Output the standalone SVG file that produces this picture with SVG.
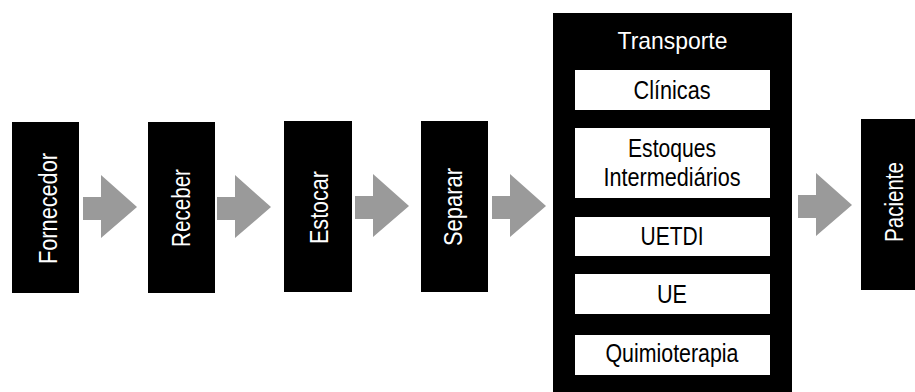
<svg xmlns="http://www.w3.org/2000/svg" width="915" height="392" viewBox="0 0 915 392">
<style>
.blk{fill:#000}
.wht{fill:#fff}
.vt{font-family:"Liberation Sans",Arial,sans-serif;font-size:26px;fill:#fff;text-anchor:middle}
.tt{font-family:"Liberation Sans",Arial,sans-serif;font-size:24px;fill:#fff;text-anchor:middle}
.ht{font-family:"Liberation Sans",Arial,sans-serif;font-size:26px;fill:#000;text-anchor:middle}
.arr{fill:#9a9a9a}
</style>
<defs>
<path id="arrow" d="M0,-10 L18,-10 L18,-32 L54,0 L18,31 L18,13 L0,13 Z"/>
</defs>
<rect width="915" height="392" fill="#fff"/>
<g id="connectors">
<use href="#arrow" class="arr" x="83" y="207"/>
<use href="#arrow" class="arr" x="217" y="207"/>
<use href="#arrow" class="arr" x="355" y="206"/>
<use href="#arrow" class="arr" x="492" y="206"/>
<use href="#arrow" class="arr" x="798" y="205"/>
</g>
<g id="fornecedor">
<rect class="blk" x="12" y="122" width="67" height="171"/>
<text class="vt" transform="translate(56.5,208.5) rotate(-90)" textLength="111" lengthAdjust="spacingAndGlyphs">Fornecedor</text>
</g>
<g id="receber">
<rect class="blk" x="148" y="122" width="67" height="171"/>
<text class="vt" transform="translate(190,208) rotate(-90)" textLength="78" lengthAdjust="spacingAndGlyphs">Receber</text>
</g>
<g id="estocar">
<rect class="blk" x="284" y="121" width="68" height="171"/>
<text class="vt" transform="translate(328,207.5) rotate(-90)" textLength="73" lengthAdjust="spacingAndGlyphs">Estocar</text>
</g>
<g id="separar">
<rect class="blk" x="421" y="121" width="67" height="171"/>
<text class="vt" transform="translate(462,207) rotate(-90)" textLength="78" lengthAdjust="spacingAndGlyphs">Separar</text>
</g>
<g id="transporte">
<rect class="blk" x="553" y="13" width="239" height="379"/>
<text class="tt" x="672.5" y="49" textLength="110" lengthAdjust="spacingAndGlyphs">Transporte</text>
<g id="clinicas">
<rect class="wht" x="575" y="70" width="195" height="40"/>
<text class="ht" x="672" y="99" textLength="77" lengthAdjust="spacingAndGlyphs">Clínicas</text>
</g>
<g id="estoques">
<rect class="wht" x="575" y="128" width="195" height="70"/>
<text class="ht" x="672" y="157" textLength="88" lengthAdjust="spacingAndGlyphs">Estoques</text>
<text class="ht" x="672" y="186" textLength="137" lengthAdjust="spacingAndGlyphs">Intermediários</text>
</g>
<g id="uetdi">
<rect class="wht" x="575" y="217" width="195" height="39"/>
<text class="ht" x="672" y="245" textLength="63" lengthAdjust="spacingAndGlyphs">UETDI</text>
</g>
<g id="ue">
<rect class="wht" x="575" y="274" width="195" height="40"/>
<text class="ht" x="672" y="303" textLength="30" lengthAdjust="spacingAndGlyphs">UE</text>
</g>
<g id="quimioterapia">
<rect class="wht" x="575" y="335" width="195" height="40"/>
<text class="ht" x="672" y="362" textLength="133" lengthAdjust="spacingAndGlyphs">Quimioterapia</text>
</g>
</g>
<g id="paciente">
<rect class="blk" x="861" y="119" width="54" height="171"/>
<text class="vt" transform="translate(903,202) rotate(-90)" textLength="80" lengthAdjust="spacingAndGlyphs">Paciente</text>
</g>
</svg>
